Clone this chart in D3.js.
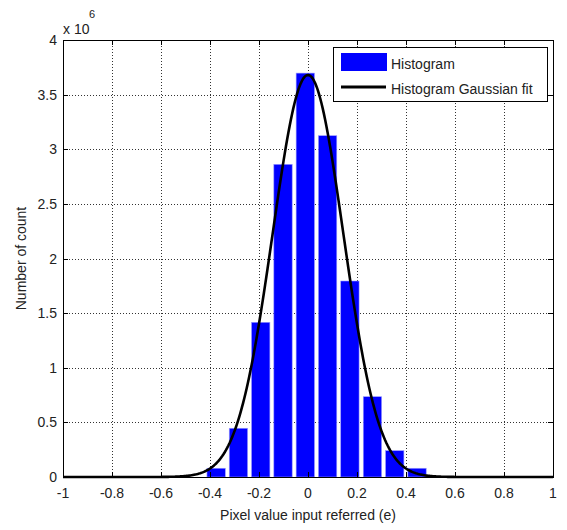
<!DOCTYPE html>
<html>
<head>
<meta charset="utf-8">
<script src="https://cdn.jsdelivr.net/npm/d3@7"></script>
<style>
  body { margin: 0; background: #fff; }
  text { font-family: "Liberation Sans", Arial, sans-serif; fill: #222; }
</style>
</head>
<body>
<svg id="chart" width="567" height="530"></svg>
<script>
// histogram bins (centre, count)
const binCenters = [-0.375, -0.284, -0.193, -0.102, -0.011, 0.080, 0.171, 0.263, 0.354, 0.445];
const binCounts = [0.08e6, 0.446e6, 1.416e6, 2.862e6, 3.697e6, 3.124e6, 1.794e6, 0.735e6, 0.241e6, 0.08e6];
const binStep = 0.0913;

// gaussian fit parameters
const fitAmp = 3.68e6;
const fitMu = 0.0;
const fitSigma = 0.144;

const xTicks = [-1, -0.8, -0.6, -0.4, -0.2, 0, 0.2, 0.4, 0.6, 0.8, 1];
const yTicks = [0, 0.5, 1, 1.5, 2, 2.5, 3, 3.5, 4];

const svg = d3.select('#chart');
const m = { left: 63, right: 553, top: 40, bottom: 477 };

const x = d3.scaleLinear().domain([-1, 1]).range([m.left, m.right]);
const y = d3.scaleLinear().domain([0, 4e6]).range([m.bottom, m.top]);

// dotted grid
const grid = svg.append('g');
grid.selectAll('line.gx')
  .data(xTicks.slice(1, -1))
  .enter().append('line')
  .attr('x1', d => Math.round(x(d)) + 0.5).attr('x2', d => Math.round(x(d)) + 0.5)
  .attr('y1', m.top).attr('y2', m.bottom)
  .attr('stroke', '#333').attr('stroke-dasharray', '1,2');
grid.selectAll('line.gy')
  .data(yTicks.slice(1, -1))
  .enter().append('line')
  .attr('y1', d => Math.round(y(d * 1e6)) + 0.5).attr('y2', d => Math.round(y(d * 1e6)) + 0.5)
  .attr('x1', m.left).attr('x2', m.right)
  .attr('stroke', '#333').attr('stroke-dasharray', '1,2');

// bars
const bw = x(binStep * 0.82) - x(0);
svg.append('g').selectAll('rect')
  .data(binCenters)
  .enter().append('rect')
  .attr('x', d => x(d) - bw / 2)
  .attr('width', bw)
  .attr('y', (d, i) => y(binCounts[i]))
  .attr('height', (d, i) => y(0) - y(binCounts[i]))
  .attr('fill', '#0000ff')
  .attr('stroke', '#9999ff')
  .attr('stroke-width', 0.6);

// fit curve
const fitX = d3.range(-1, 1.0001, 0.005);
const line = d3.line()
  .x(d => x(d))
  .y(d => y(fitAmp * Math.exp(-((d - fitMu) ** 2) / (2 * fitSigma ** 2))));
svg.append('path')
  .datum(fitX)
  .attr('d', line)
  .attr('fill', 'none')
  .attr('stroke', '#000')
  .attr('stroke-width', 2.6);

// axes box
svg.append('rect')
  .attr('x', m.left + 0.5).attr('y', m.top + 0.5)
  .attr('width', m.right - m.left).attr('height', m.bottom - m.top)
  .attr('fill', 'none').attr('stroke', '#000');

// inward ticks on all sides
const tk = 5;
const ticks = svg.append('g').attr('stroke', '#000');
xTicks.forEach(t => {
  const px = Math.round(x(t)) + 0.5;
  ticks.append('line').attr('x1', px).attr('x2', px).attr('y1', m.bottom).attr('y2', m.bottom - tk);
  ticks.append('line').attr('x1', px).attr('x2', px).attr('y1', m.top).attr('y2', m.top + tk);
});
yTicks.forEach(t => {
  const py = Math.round(y(t * 1e6)) + 0.5;
  ticks.append('line').attr('y1', py).attr('y2', py).attr('x1', m.left).attr('x2', m.left + tk);
  ticks.append('line').attr('y1', py).attr('y2', py).attr('x1', m.right).attr('x2', m.right - tk);
});

// tick labels
svg.append('g').selectAll('text')
  .data(xTicks)
  .enter().append('text')
  .attr('x', d => x(d))
  .attr('y', 498)
  .attr('text-anchor', 'middle')
  .attr('font-size', 14)
  .text(d => String(d));
svg.append('g').selectAll('text')
  .data(yTicks)
  .enter().append('text')
  .attr('x', 57)
  .attr('y', d => y(d * 1e6) + 5)
  .attr('text-anchor', 'end')
  .attr('font-size', 14)
  .text(d => String(d));

// exponent label
svg.append('text').attr('x', 63).attr('y', 34).attr('font-size', 14).text('x 10');
svg.append('text').attr('x', 89).attr('y', 18).attr('font-size', 11).text('6');

// axis titles
svg.append('text')
  .attr('x', (m.left + m.right) / 2).attr('y', 520)
  .attr('text-anchor', 'middle').attr('font-size', 14)
  .text('Pixel value input referred (e)');
svg.append('text')
  .attr('transform', `translate(26,${(m.top + m.bottom) / 2}) rotate(-90)`)
  .attr('text-anchor', 'middle').attr('font-size', 14)
  .text('Number of count');

// legend
const lg = svg.append('g');
lg.append('rect').attr('x', 333.5).attr('y', 47.5).attr('width', 214).attr('height', 54)
  .attr('fill', '#fff').attr('stroke', '#000');
lg.append('rect').attr('x', 341).attr('y', 53).attr('width', 46).attr('height', 18).attr('fill', '#0000ff');
lg.append('line').attr('x1', 341).attr('x2', 386).attr('y1', 87).attr('y2', 87)
  .attr('stroke', '#000').attr('stroke-width', 3);
lg.append('text').attr('x', 391).attr('y', 69).attr('font-size', 14).text('Histogram');
lg.append('text').attr('x', 391).attr('y', 94).attr('font-size', 14).text('Histogram Gaussian fit');
</script>
</body>
</html>
